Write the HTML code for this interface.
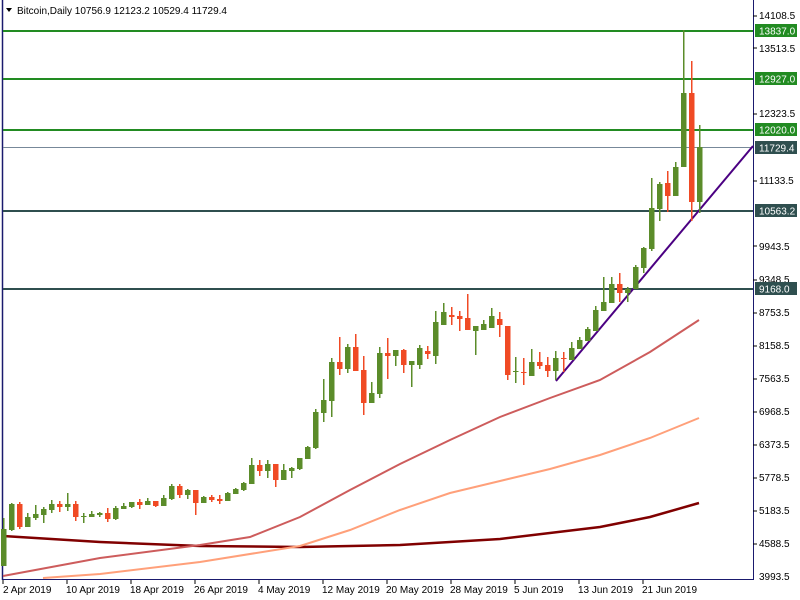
<!DOCTYPE html>
<html><head><meta charset="utf-8"><style>
body{margin:0;background:#fff;}
svg{display:block;font-family:"Liberation Sans",Arial,sans-serif;font-size:10px;}
</style></head><body>
<svg width="800" height="600" viewBox="0 0 800 600" xmlns="http://www.w3.org/2000/svg">
<rect width="800" height="600" fill="#fff"/>
<line x1="2.5" y1="0" x2="2.5" y2="580" stroke="#1a1a6e" stroke-width="1.5"/>
<line x1="753.5" y1="0" x2="753.5" y2="580" stroke="#1a1a6e"/>
<line x1="2" y1="579.5" x2="754" y2="579.5" stroke="#1a1a6e"/>
<g stroke-width="2">
<line x1="3" y1="31" x2="753" y2="31" stroke="#228b22"/>
<line x1="3" y1="79" x2="753" y2="79" stroke="#228b22"/>
<line x1="3" y1="130" x2="753" y2="130" stroke="#228b22"/>
<line x1="3" y1="211" x2="753" y2="211" stroke="#2f4f4f"/>
<line x1="3" y1="289" x2="753" y2="289" stroke="#2f4f4f"/>
</g>
<line x1="3" y1="147.5" x2="753" y2="147.5" stroke="#778899"/>
<polyline fill="none" stroke="#800000" stroke-width="2.5" points="3,536 100,542 200,546 300,547 400,545 500,539 600,527 650,517 699,503"/>
<polyline fill="none" stroke="#cd5c5c" stroke-width="2" points="3,576 100,558 200,545 250,537 300,517 350,490 400,464 450,440 500,417 550,398 600,380 650,352 699,320"/>
<polyline fill="none" stroke="#ffa07a" stroke-width="2" points="43,578 100,574 200,562 300,546 350,530 400,510 450,493 500,481 550,469 600,455 650,438 699,418"/>
<line x1="556" y1="381" x2="753" y2="146" stroke="#4b0082" stroke-width="2"/>
<g fill="#5b8c2a">
<rect x="3" y="518" width="1.5" height="48"/><rect x="1" y="529" width="5.5" height="37"/>
<rect x="11" y="503" width="1.5" height="28"/><rect x="9" y="504" width="5.5" height="26"/>
<rect x="27" y="513" width="1.5" height="14"/><rect x="25" y="517" width="5.5" height="10"/>
<rect x="35" y="505" width="1.5" height="15"/><rect x="33" y="514" width="5.5" height="4"/>
<rect x="43" y="507" width="1.5" height="16"/><rect x="41" y="509" width="5.5" height="6"/>
<rect x="51" y="500" width="1.5" height="13"/><rect x="49" y="504" width="5.5" height="6"/>
<rect x="67" y="493" width="1.5" height="18"/><rect x="65" y="504" width="5.5" height="3"/>
<rect x="83" y="513" width="1.5" height="10"/><rect x="81" y="516" width="5.5" height="1"/>
<rect x="91" y="511" width="1.5" height="6"/><rect x="89" y="514" width="5.5" height="3"/>
<rect x="99" y="512" width="1.5" height="5"/><rect x="97" y="513" width="5.5" height="2"/>
<rect x="115" y="506" width="1.5" height="14"/><rect x="113" y="508" width="5.5" height="11"/>
<rect x="123" y="503" width="1.5" height="6"/><rect x="121" y="506" width="5.5" height="3"/>
<rect x="131" y="502" width="1.5" height="6"/><rect x="129" y="502" width="5.5" height="5"/>
<rect x="147" y="498" width="1.5" height="7"/><rect x="145" y="501" width="5.5" height="4"/>
<rect x="163" y="495" width="1.5" height="11"/><rect x="161" y="498" width="5.5" height="8"/>
<rect x="171" y="484" width="1.5" height="16"/><rect x="169" y="486" width="5.5" height="13"/>
<rect x="187" y="489" width="1.5" height="10"/><rect x="185" y="490" width="5.5" height="5"/>
<rect x="203" y="496" width="1.5" height="7"/><rect x="201" y="497" width="5.5" height="6"/>
<rect x="227" y="492" width="1.5" height="9"/><rect x="225" y="493" width="5.5" height="8"/>
<rect x="235" y="488" width="1.5" height="6"/><rect x="233" y="489" width="5.5" height="5"/>
<rect x="243" y="482" width="1.5" height="9"/><rect x="241" y="483" width="5.5" height="7"/>
<rect x="251" y="458" width="1.5" height="26"/><rect x="249" y="465" width="5.5" height="19"/>
<rect x="267" y="460" width="1.5" height="18"/><rect x="265" y="464" width="5.5" height="7"/>
<rect x="283" y="464" width="1.5" height="16"/><rect x="281" y="470" width="5.5" height="10"/>
<rect x="291" y="467" width="1.5" height="11"/><rect x="289" y="468" width="5.5" height="3"/>
<rect x="299" y="458" width="1.5" height="12"/><rect x="297" y="458" width="5.5" height="11"/>
<rect x="307" y="446" width="1.5" height="13"/><rect x="305" y="447" width="5.5" height="12"/>
<rect x="315" y="409" width="1.5" height="40"/><rect x="313" y="412" width="5.5" height="36"/>
<rect x="323" y="379" width="1.5" height="43"/><rect x="321" y="400" width="5.5" height="13"/>
<rect x="331" y="358" width="1.5" height="59"/><rect x="329" y="362" width="5.5" height="39"/>
<rect x="347" y="344" width="1.5" height="29"/><rect x="345" y="347" width="5.5" height="22"/>
<rect x="371" y="382" width="1.5" height="21"/><rect x="369" y="393" width="5.5" height="10"/>
<rect x="379" y="347" width="1.5" height="51"/><rect x="377" y="353" width="5.5" height="41"/>
<rect x="395" y="350" width="1.5" height="16"/><rect x="393" y="350" width="5.5" height="6"/>
<rect x="411" y="361" width="1.5" height="26"/><rect x="409" y="361" width="5.5" height="4"/>
<rect x="419" y="345" width="1.5" height="24"/><rect x="417" y="348" width="5.5" height="17"/>
<rect x="435" y="311" width="1.5" height="53"/><rect x="433" y="322" width="5.5" height="34"/>
<rect x="443" y="303" width="1.5" height="22"/><rect x="441" y="312" width="5.5" height="13"/>
<rect x="475" y="326" width="1.5" height="29"/><rect x="473" y="326" width="5.5" height="5"/>
<rect x="483" y="320" width="1.5" height="10"/><rect x="481" y="324" width="5.5" height="6"/>
<rect x="491" y="308" width="1.5" height="20"/><rect x="489" y="316" width="5.5" height="12"/>
<rect x="515" y="357" width="1.5" height="26"/><rect x="513" y="371" width="5.5" height="1"/>
<rect x="531" y="349" width="1.5" height="27"/><rect x="529" y="362" width="5.5" height="14"/>
<rect x="555" y="351" width="1.5" height="29"/><rect x="553" y="358" width="5.5" height="13"/>
<rect x="571" y="342" width="1.5" height="18"/><rect x="569" y="348" width="5.5" height="12"/>
<rect x="579" y="337" width="1.5" height="12"/><rect x="577" y="340" width="5.5" height="9"/>
<rect x="587" y="327" width="1.5" height="14"/><rect x="585" y="329" width="5.5" height="12"/>
<rect x="595" y="306" width="1.5" height="25"/><rect x="593" y="310" width="5.5" height="21"/>
<rect x="603" y="277" width="1.5" height="34"/><rect x="601" y="302" width="5.5" height="9"/>
<rect x="611" y="277" width="1.5" height="26"/><rect x="609" y="284" width="5.5" height="19"/>
<rect x="627" y="287" width="1.5" height="15"/><rect x="625" y="289" width="5.5" height="4"/>
<rect x="635" y="265" width="1.5" height="24"/><rect x="633" y="267" width="5.5" height="22"/>
<rect x="643" y="247" width="1.5" height="26"/><rect x="641" y="248" width="5.5" height="20"/>
<rect x="651" y="178" width="1.5" height="73"/><rect x="649" y="208" width="5.5" height="41"/>
<rect x="659" y="182" width="1.5" height="39"/><rect x="657" y="184" width="5.5" height="25"/>
<rect x="675" y="162" width="1.5" height="34"/><rect x="673" y="167" width="5.5" height="29"/>
<rect x="683" y="30" width="1.5" height="137"/><rect x="681" y="93" width="5.5" height="74"/>
<rect x="699" y="125" width="1.5" height="88"/><rect x="697" y="147" width="5.5" height="55"/>
</g>
<g fill="#f04a24">
<rect x="19" y="502" width="1.5" height="27"/><rect x="17" y="504" width="5.5" height="23"/>
<rect x="59" y="501" width="1.5" height="11"/><rect x="57" y="504" width="5.5" height="3"/>
<rect x="75" y="501" width="1.5" height="20"/><rect x="73" y="504" width="5.5" height="13"/>
<rect x="107" y="508" width="1.5" height="14"/><rect x="105" y="513" width="5.5" height="6"/>
<rect x="139" y="499" width="1.5" height="10"/><rect x="137" y="502" width="5.5" height="3"/>
<rect x="155" y="501" width="1.5" height="6"/><rect x="153" y="501" width="5.5" height="5"/>
<rect x="179" y="484" width="1.5" height="14"/><rect x="177" y="486" width="5.5" height="9"/>
<rect x="195" y="490" width="1.5" height="25"/><rect x="193" y="490" width="5.5" height="13"/>
<rect x="211" y="495" width="1.5" height="7"/><rect x="209" y="497" width="5.5" height="3"/>
<rect x="219" y="495" width="1.5" height="9"/><rect x="217" y="499" width="5.5" height="2"/>
<rect x="259" y="460" width="1.5" height="16"/><rect x="257" y="465" width="5.5" height="6"/>
<rect x="275" y="464" width="1.5" height="23"/><rect x="273" y="464" width="5.5" height="16"/>
<rect x="339" y="337" width="1.5" height="38"/><rect x="337" y="362" width="5.5" height="7"/>
<rect x="355" y="334" width="1.5" height="37"/><rect x="353" y="347" width="5.5" height="24"/>
<rect x="363" y="356" width="1.5" height="59"/><rect x="361" y="370" width="5.5" height="33"/>
<rect x="387" y="338" width="1.5" height="41"/><rect x="385" y="353" width="5.5" height="3"/>
<rect x="403" y="349" width="1.5" height="24"/><rect x="401" y="350" width="5.5" height="15"/>
<rect x="427" y="346" width="1.5" height="13"/><rect x="425" y="351" width="5.5" height="3"/>
<rect x="451" y="307" width="1.5" height="18"/><rect x="449" y="315" width="5.5" height="2"/>
<rect x="459" y="311" width="1.5" height="20"/><rect x="457" y="316" width="5.5" height="3"/>
<rect x="467" y="294" width="1.5" height="36"/><rect x="465" y="318" width="5.5" height="12"/>
<rect x="499" y="312" width="1.5" height="25"/><rect x="497" y="319" width="5.5" height="6"/>
<rect x="507" y="326" width="1.5" height="54"/><rect x="505" y="326" width="5.5" height="49"/>
<rect x="523" y="358" width="1.5" height="27"/><rect x="521" y="372" width="5.5" height="1"/>
<rect x="539" y="352" width="1.5" height="17"/><rect x="537" y="362" width="5.5" height="4"/>
<rect x="547" y="357" width="1.5" height="20"/><rect x="545" y="365" width="5.5" height="6"/>
<rect x="563" y="352" width="1.5" height="20"/><rect x="561" y="358" width="5.5" height="1"/>
<rect x="619" y="273" width="1.5" height="29"/><rect x="617" y="284" width="5.5" height="9"/>
<rect x="667" y="171" width="1.5" height="41"/><rect x="665" y="183" width="5.5" height="13"/>
<rect x="691" y="61" width="1.5" height="160"/><rect x="689" y="93" width="5.5" height="109"/>
</g>
<g fill="#000">
<text x="759" y="19">14108.5</text>
<text x="759" y="52">13513.5</text>
<text x="759" y="117">12323.5</text>
<text x="759" y="184">11133.5</text>
<text x="759" y="250">9943.5</text>
<text x="759" y="283">9348.5</text>
<text x="759" y="316">8753.5</text>
<text x="759" y="349">8158.5</text>
<text x="759" y="382">7563.5</text>
<text x="759" y="415">6968.5</text>
<text x="759" y="448">6373.5</text>
<text x="759" y="481">5778.5</text>
<text x="759" y="514">5183.5</text>
<text x="759" y="547">4588.5</text>
<text x="759" y="580">3993.5</text>
</g>
<g stroke="#000"><line x1="753" y1="16" x2="757" y2="16"/><line x1="753" y1="48" x2="757" y2="48"/><line x1="753" y1="114" x2="757" y2="114"/><line x1="753" y1="181" x2="757" y2="181"/><line x1="753" y1="246" x2="757" y2="246"/><line x1="753" y1="280" x2="757" y2="280"/><line x1="753" y1="313" x2="757" y2="313"/><line x1="753" y1="346" x2="757" y2="346"/><line x1="753" y1="379" x2="757" y2="379"/><line x1="753" y1="412" x2="757" y2="412"/><line x1="753" y1="445" x2="757" y2="445"/><line x1="753" y1="478" x2="757" y2="478"/><line x1="753" y1="511" x2="757" y2="511"/><line x1="753" y1="544" x2="757" y2="544"/></g>
<rect x="755" y="24" width="42" height="13" fill="#228b22"/><text x="759" y="34.5" fill="#fff">13837.0</text>
<rect x="755" y="72" width="42" height="13" fill="#228b22"/><text x="759" y="82.5" fill="#fff">12927.0</text>
<rect x="755" y="123" width="42" height="13" fill="#228b22"/><text x="759" y="133.5" fill="#fff">12020.0</text>
<rect x="755" y="141" width="42" height="13" fill="#2f4f4f"/><text x="759" y="151.5" fill="#fff">11729.4</text>
<rect x="755" y="204" width="42" height="13" fill="#2f4f4f"/><text x="759" y="214.5" fill="#fff">10563.2</text>
<rect x="755" y="282" width="42" height="13" fill="#2f4f4f"/><text x="759" y="292.5" fill="#fff">9168.0</text>
<g fill="#000">
<text x="3" y="593">2 Apr 2019</text>
<text x="66" y="593">10 Apr 2019</text>
<text x="130" y="593">18 Apr 2019</text>
<text x="194" y="593">26 Apr 2019</text>
<text x="258" y="593">4 May 2019</text>
<text x="322" y="593">12 May 2019</text>
<text x="386" y="593">20 May 2019</text>
<text x="450" y="593">28 May 2019</text>
<text x="514" y="593">5 Jun 2019</text>
<text x="578" y="593">13 Jun 2019</text>
<text x="642" y="593">21 Jun 2019</text>
</g>
<g stroke="#000"><line x1="3" y1="580" x2="3" y2="584"/><line x1="67" y1="580" x2="67" y2="584"/><line x1="131" y1="580" x2="131" y2="584"/><line x1="195" y1="580" x2="195" y2="584"/><line x1="259" y1="580" x2="259" y2="584"/><line x1="323" y1="580" x2="323" y2="584"/><line x1="387" y1="580" x2="387" y2="584"/><line x1="451" y1="580" x2="451" y2="584"/><line x1="515" y1="580" x2="515" y2="584"/><line x1="579" y1="580" x2="579" y2="584"/><line x1="643" y1="580" x2="643" y2="584"/></g>
<polygon points="6,8 12,8 9,12" fill="#000"/>
<text x="17" y="14" fill="#000">Bitcoin,Daily  10756.9 12123.2 10529.4 11729.4</text>
</svg>
</body></html>
